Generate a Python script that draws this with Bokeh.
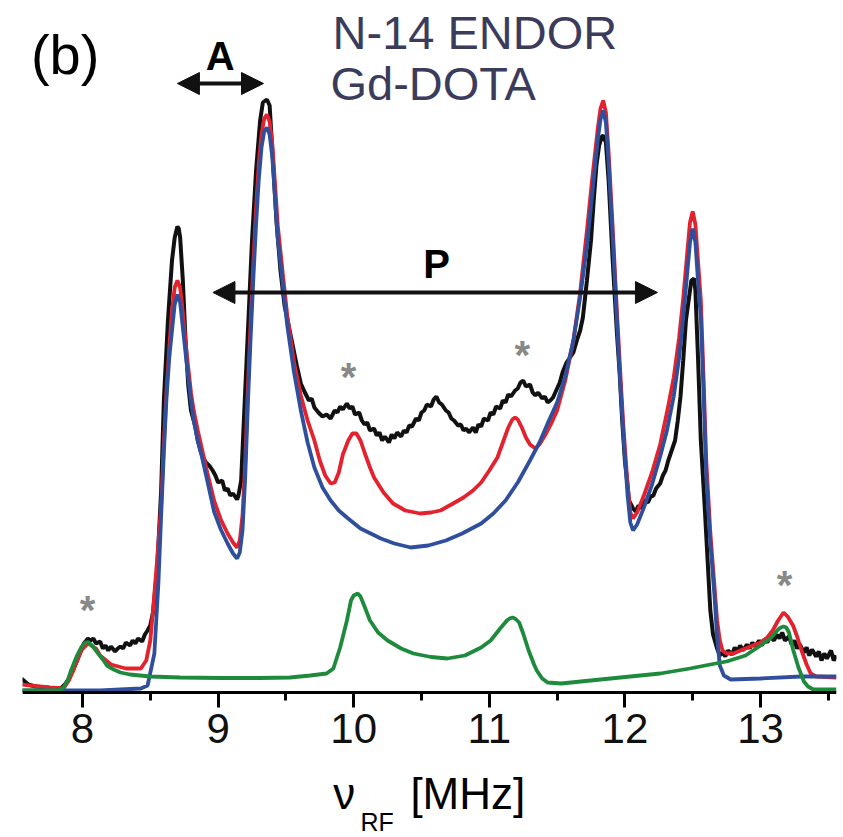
from bokeh.plotting import figure
from bokeh.models import Range1d, FixedTicker, Label, Arrow, NormalHead, LinearAxis
from bokeh.embed import file_html
from bokeh.resources import INLINE

# ---------------- data (x in MHz, intensity in arbitrary units) ----------------
black_x = [7.55, 7.60, 7.65, 7.73, 7.80, 7.84, 7.87, 7.90, 7.93, 7.96, 7.99, 8.01, 8.04, 8.06, 8.08,
           8.10, 8.13, 8.15, 8.17, 8.19, 8.21, 8.24, 8.26, 8.28, 8.30, 8.32, 8.35, 8.37, 8.39, 8.41,
           8.44, 8.46, 8.48, 8.50, 8.52, 8.55, 8.58, 8.60, 8.63, 8.66, 8.68, 8.70, 8.71, 8.72, 8.74, 8.76,
           8.78, 8.80, 8.83, 8.85, 8.87, 8.89, 8.91, 8.94, 8.96, 8.98, 9.00, 9.03, 9.05, 9.07, 9.09,
           9.11, 9.14, 9.15, 9.17, 9.19, 9.22, 9.25, 9.28, 9.31, 9.33, 9.36, 9.38, 9.40, 9.43, 9.46,
           9.49, 9.52, 9.55, 9.58, 9.61, 9.64, 9.67, 9.69, 9.71, 9.74, 9.77, 9.80, 9.83, 9.86, 9.88,
           9.90, 9.92, 9.95, 9.97, 9.99, 10.01, 10.04, 10.06, 10.08, 10.10, 10.12, 10.15, 10.17, 10.19,
           10.21, 10.23, 10.26, 10.28, 10.30, 10.32, 10.35, 10.37, 10.39, 10.41, 10.43, 10.46, 10.48,
           10.50, 10.52, 10.54, 10.57, 10.59, 10.61, 10.63, 10.65, 10.68, 10.70, 10.72, 10.74, 10.77,
           10.79, 10.81, 10.83, 10.85, 10.88, 10.90, 10.92, 10.94, 10.96, 10.99, 11.01, 11.03, 11.05,
           11.08, 11.10, 11.12, 11.14, 11.16, 11.19, 11.21, 11.23, 11.25, 11.27, 11.30, 11.32, 11.34,
           11.36, 11.39, 11.41, 11.43, 11.45, 11.47, 11.50, 11.52, 11.54, 11.57, 11.60, 11.62, 11.65,
           11.67, 11.69, 11.72, 11.75, 11.77, 11.79, 11.81, 11.83, 11.84, 11.86, 11.88, 11.91, 11.94,
           11.96, 11.98, 12.00, 12.02, 12.03, 12.06, 12.08, 12.10, 12.12, 12.14, 12.17, 12.19, 12.21,
           12.23, 12.26, 12.28, 12.30, 12.32, 12.34, 12.37, 12.39, 12.41, 12.43, 12.45, 12.48, 12.49,
           12.51, 12.52, 12.54, 12.56, 12.59, 12.61, 12.63, 12.65, 12.68, 12.70, 12.72, 12.74, 12.76,
           12.79, 12.81, 12.83, 12.85, 12.87, 12.90, 12.92, 12.94, 12.96, 12.99, 13.01, 13.03, 13.05,
           13.07, 13.10, 13.12, 13.14, 13.16, 13.18, 13.21, 13.23, 13.25, 13.27, 13.29, 13.32, 13.34,
           13.36, 13.38, 13.41, 13.43, 13.45, 13.47, 13.49, 13.52, 13.54, 13.56]
black_y = [14, 8, 6, 5, 4, 4, 8, 14, 22, 32, 42, 49, 54, 52, 54,
           49, 51, 44, 47, 42, 46, 41, 44, 46, 44, 50, 47, 52, 49, 54,
           51, 58, 62, 67, 80, 122, 202, 292, 372, 432, 455, 466, 464, 455, 412, 352,
           307, 282, 267, 252, 242, 235, 230, 226, 222, 217, 210, 212, 202, 204, 197,
           199, 193, 197, 212, 272, 362, 452, 522, 572, 590, 593, 587, 542, 472, 422,
           387, 367, 347, 327, 309, 300, 292, 294, 285, 280, 276, 278, 274, 282, 280,
           286, 283, 289, 284, 286, 278, 280, 272, 268, 270, 262, 264, 257, 260,
           252, 256, 250, 258, 254, 260, 256, 262, 260, 267, 266, 274, 272,
           280, 282, 288, 286, 293, 296, 290, 288, 282, 280, 274, 272, 267,
           268, 262, 264, 260, 265, 260, 268, 266, 274, 272, 280, 278, 286,
           284, 292, 290, 298, 296, 302, 304, 310, 312, 306, 308, 300, 297,
           300, 294, 296, 290, 292, 295, 304, 310, 320, 330, 336, 340, 354,
           362, 375, 412, 452, 492, 527, 547, 556, 557, 550, 512, 432, 362,
           322, 272, 232, 207, 192, 184, 181, 187, 184, 192, 190, 196, 197,
           204, 209, 217, 222, 232, 240, 252, 272, 296, 332, 372, 402, 412,
           414, 402, 332, 252, 182, 132, 82, 58, 44, 37, 40, 36, 42,
           38, 45, 41, 47, 42, 48, 44, 50, 46, 52, 47, 53, 50,
           56, 52, 58, 54, 60, 52, 56, 48, 52, 44, 48, 40, 45,
           37, 43, 36, 41, 32, 39, 34, 42, 32, 37]

red_x = [7.55, 7.76, 7.86, 7.90, 7.93, 7.99, 8.04, 8.10, 8.13, 8.21, 8.32, 8.43, 8.47,
         8.50, 8.52, 8.55, 8.58, 8.60, 8.62, 8.64, 8.66, 8.68, 8.70, 8.72, 8.74, 8.77, 8.80,
         8.82, 8.85, 8.88, 8.92, 8.97, 9.02, 9.07, 9.11, 9.14, 9.16, 9.18, 9.20, 9.22, 9.24,
         9.26, 9.28, 9.30, 9.32, 9.34, 9.36, 9.38, 9.40, 9.42, 9.44, 9.48, 9.51, 9.56, 9.61,
         9.66, 9.71, 9.75, 9.79, 9.83, 9.86, 9.89, 9.92, 9.96, 9.99, 10.02, 10.05, 10.08,
         10.12, 10.15, 10.22, 10.29, 10.38, 10.49, 10.57, 10.64, 10.72, 10.81, 10.88, 10.94,
         11.00, 11.06, 11.10, 11.14, 11.17, 11.19, 11.21, 11.24, 11.27, 11.30, 11.34, 11.37,
         11.41, 11.46, 11.50, 11.56, 11.62, 11.67, 11.72, 11.76, 11.80, 11.82, 11.84, 11.86,
         11.88, 11.91, 11.94, 11.97, 11.99, 12.02, 12.04, 12.06, 12.09, 12.14, 12.20, 12.26,
         12.31, 12.36, 12.40, 12.43, 12.46, 12.48, 12.50, 12.52, 12.54, 12.56, 12.58, 12.60,
         12.63, 12.66, 12.68, 12.70, 12.72, 12.75, 12.80, 12.87, 13.00, 13.05, 13.09, 13.13,
         13.17, 13.20, 13.24, 13.27, 13.30, 13.34, 13.37, 13.41, 13.56]
red_y = [8, 5, 4, 12, 22, 42, 49, 44, 37, 28, 24, 24, 32,
         52, 82, 132, 187, 250, 302, 345, 382, 405, 412, 405, 380, 337, 300,
         282, 262, 244, 220, 192, 173, 159, 150, 145, 152, 177, 230, 305, 370,
         430, 484, 529, 558, 574, 578, 571, 548, 508, 467, 415, 377, 330, 297,
         272, 252, 232, 217, 209, 210, 220, 238, 252, 259, 259, 252, 240,
         225, 215, 200, 189, 182, 179, 180, 182, 188, 195, 202, 210,
         222, 235, 250, 265, 273, 275, 273, 265, 255, 248, 244, 248,
         257, 270, 282, 312, 352, 400, 462, 515, 564, 584, 592, 580,
         540, 465, 384, 310, 264, 207, 180, 174, 180, 197, 220, 248,
         280, 315, 355, 394, 440, 470, 481, 468, 430, 392, 315, 232,
         160, 107, 72, 52, 42, 39, 39, 43, 50, 55, 62, 72,
         80, 76, 67, 56, 43, 28, 19, 16, 15]

blue_x = [7.55, 8.13, 8.43, 8.48, 8.53, 8.56, 8.58, 8.60, 8.62, 8.64, 8.66, 8.68, 8.70, 8.72,
          8.74, 8.77, 8.80, 8.82, 8.85, 8.88, 8.92, 8.97, 9.02, 9.07, 9.11, 9.14, 9.16, 9.18,
          9.20, 9.22, 9.24, 9.26, 9.28, 9.30, 9.32, 9.34, 9.36, 9.38, 9.40, 9.42, 9.44, 9.48,
          9.51, 9.56, 9.61, 9.66, 9.71, 9.77, 9.83, 9.89, 9.95, 10.05, 10.20, 10.30, 10.42,
          10.55, 10.68, 10.80, 10.94, 11.03, 11.12, 11.21, 11.30, 11.37, 11.44, 11.50, 11.56,
          11.62, 11.67, 11.72, 11.76, 11.80, 11.82, 11.84, 11.86, 11.88, 11.91, 11.94, 11.97,
          11.99, 12.02, 12.04, 12.06, 12.09, 12.14, 12.20, 12.26, 12.31, 12.36, 12.40, 12.43,
          12.46, 12.48, 12.50, 12.52, 12.54, 12.56, 12.58, 12.60, 12.63, 12.66, 12.68, 12.70,
          12.73, 12.78, 13.00, 13.30, 13.56]
blue_y = [2, 2, 4, 7, 39, 110, 177, 240, 296, 335, 362, 388, 398, 390,
          365, 327, 292, 272, 252, 236, 212, 181, 163, 149, 139, 134, 140, 162,
          215, 290, 355, 414, 468, 513, 545, 561, 565, 558, 535, 495, 454, 405,
          367, 320, 282, 250, 225, 205, 192, 182, 175, 164, 154, 149, 145,
          147, 152, 159, 169, 179, 192, 210, 232, 250, 272, 290, 316,
          352, 395, 447, 500, 553, 573, 582, 570, 530, 455, 375, 300,
          256, 197, 170, 162, 168, 185, 208, 236, 262, 296, 335, 375,
          420, 450, 464, 450, 410, 375, 300, 217, 150, 98, 55, 27,
          17, 13, 14, 16, 16]

green_x = [7.55, 7.80, 7.84, 7.86, 7.89, 7.91, 7.93, 7.96, 7.99, 8.02, 8.04, 8.07, 8.11, 8.15,
           8.18, 8.23, 8.28, 8.35, 8.50, 8.72, 9.02, 9.31, 9.53, 9.68, 9.80, 9.85, 9.90, 9.95,
           9.98, 10.00, 10.03, 10.05, 10.08, 10.12, 10.18, 10.25, 10.35, 10.44, 10.57, 10.69,
           10.82, 10.94, 11.01, 11.08, 11.13, 11.15, 11.17, 11.19, 11.22, 11.25, 11.29, 11.33,
           11.35, 11.39, 11.43, 11.53, 11.82, 12.04, 12.26, 12.48, 12.63, 12.75, 12.89, 13.00,
           13.08, 13.13, 13.15, 13.17, 13.19, 13.21, 13.24, 13.28, 13.32, 13.35, 13.39, 13.56]
green_y = [2, 2, 3, 5, 12, 20, 27, 37, 45, 50, 50.5, 47, 40, 33,
           27, 23, 20, 18, 16, 15, 14.5, 14.5, 15, 17, 19, 24, 45, 72,
           92, 97, 99, 96, 86, 72, 60, 52, 44, 39, 35.5, 34,
           37, 45, 52, 64, 72, 74, 75, 74, 70, 59, 42, 28,
           22, 14, 10, 9, 13, 16, 19, 24, 28, 31, 37, 47,
           55, 63, 65, 66, 65, 60, 43, 25, 11, 6, 3, 3]

tick_values = [8, 9, 10, 11, 12, 13]
minor_tick_values = [8.5, 9.5, 10.5, 11.5, 12.5, 13.5]
tick_labels = ["8", "9", "10", "11", "12", "13"]

# ---------------- figure ----------------
FONT = "Liberation Sans"
p = figure(width=843, height=837,
           x_range=Range1d(7.5575, 13.5605), y_range=Range1d(-145, 692),
           output_backend="svg", toolbar_location=None,
           x_axis_location=None, y_axis_location=None,
           min_border_left=22, min_border_right=7, min_border_top=0, min_border_bottom=0)
p.outline_line_color = None
p.grid.visible = False
p.background_fill_color = "white"
p.border_fill_color = "white"

p.line(black_x, black_y, line_color="#111111", line_width=4)
p.line(red_x, red_y, line_color="#e3222d", line_width=3.8)
p.line(blue_x, blue_y, line_color="#2f4f9d", line_width=3.8)
p.line(green_x, green_y, line_color="#1d8a3c", line_width=3.8)

ax = LinearAxis(fixed_location=0)
ax.ticker = FixedTicker(ticks=tick_values, minor_ticks=minor_tick_values)
ax.major_label_overrides = {v: s for v, s in zip(tick_values, tick_labels)}
ax.axis_line_width = 3
ax.axis_line_color = "black"
ax.major_tick_line_width = 3
ax.minor_tick_line_width = 3
ax.major_tick_out = 15
ax.major_tick_in = 0
ax.minor_tick_out = 8
ax.minor_tick_in = 0
ax.major_label_text_font = FONT
ax.major_label_text_font_size = "42px"
ax.major_label_text_color = "#111111"
ax.major_label_standoff = 6
p.add_layout(ax, "below")

# ---------------- annotations ----------------
def lab(x, y, t, size, color="black", style="normal", align="left"):
    p.add_layout(Label(x=x, y=y, text=t, text_font=FONT, text_font_size=size,
                       text_color=color, text_font_style=style, text_align=align,
                       text_baseline="alphabetic"))

lab(7.62, 638, "(b)", "56px")
lab(9.015, 637, "A", "40px", style="bold", align="center")
lab(9.844, 660, "N-14 ENDOR", "47px", color="#3b3b5c")
lab(9.829, 609, "Gd-DOTA", "47px", color="#3b3b5c")
lab(10.611, 429, "P", "40px", style="bold", align="center")

for ax_, ay_ in [(8.037, 83), (9.962, 316), (11.243, 338), (13.177, 108)]:
    lab(ax_, ay_, "*", "40px", color="#888888", style="bold", align="center")

head = dict(size=22, fill_color="#111111", line_color="#111111")
p.add_layout(Arrow(start=NormalHead(**head), end=NormalHead(**head),
                   x_start=8.70, y_start=609, x_end=9.335, y_end=609,
                   line_width=4, line_color="#111111"))
p.add_layout(Arrow(start=NormalHead(**head), end=NormalHead(**head),
                   x_start=8.962, y_start=400, x_end=12.24, y_end=400,
                   line_width=4, line_color="#111111"))

# axis title: nu_RF [MHz]
lab(9.85, -101, "\u03bd", "44px")
lab(10.05, -129, "RF", "25px")
lab(10.418, -101, "[MHz]", "44px")

open("out.html", "w").write(file_html(p, INLINE))
